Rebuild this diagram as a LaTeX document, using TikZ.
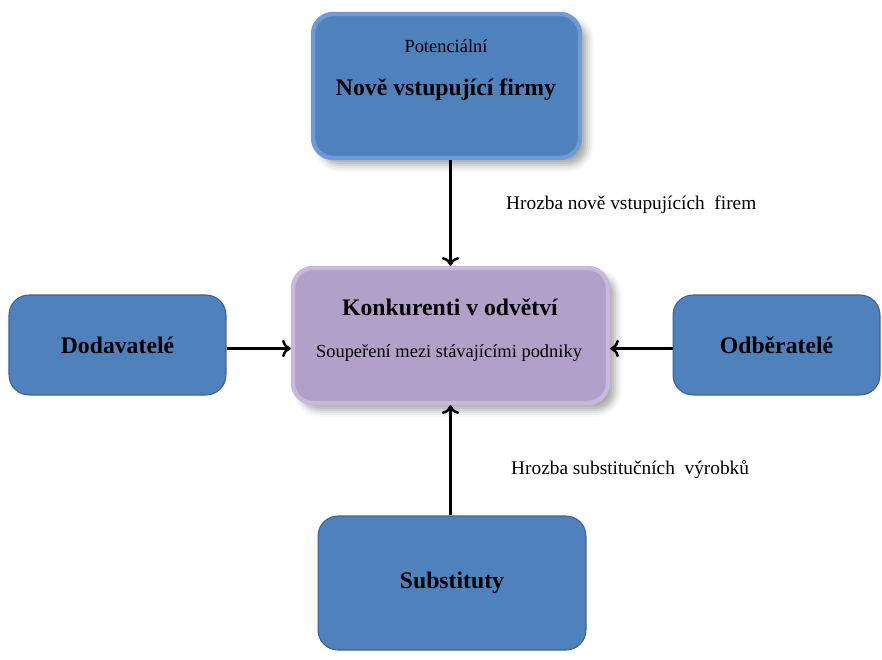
\documentclass[tikz,border=0pt]{standalone}
\usepackage{fontspec}
\setmainfont{Liberation Serif}
\usetikzlibrary{arrows.meta,shadows.blur}
\definecolor{boxblue}{RGB}{79,129,189}
\definecolor{boxedge}{RGB}{60,98,145}
\definecolor{glowblue}{RGB}{110,155,212}
\definecolor{rivalfill}{RGB}{177,160,199}
\definecolor{rivalglow}{RGB}{200,184,222}
\begin{document}
\begin{tikzpicture}[
  x=0.02cm, y=-0.02cm,
  force box/.style={draw=boxedge, fill=boxblue, rounded corners=0.4cm,
    line width=0.6pt, inner sep=0pt, align=center},
  glow box/.style={force box, draw=glowblue, line width=2.5pt,
    blur shadow={shadow xshift=4pt, shadow yshift=-4pt, shadow blur radius=4pt, shadow opacity=35}},
  rival box/.style={glow box, fill=rivalfill, draw=rivalglow},
  big label/.style={font=\fontsize{13.5}{16}\selectfont\bfseries},
  small label/.style={font=\fontsize{10.5}{12}\selectfont},
  threat label/.style={font=\fontsize{11}{13}\selectfont, anchor=west},
  force arrow/.style={draw, line width=1.4pt, -{To[length=5pt,width=10pt]}}
]
\useasboundingbox (0,0) rectangle (882,659);

% boxes
\node[glow box, minimum width=5.34cm, minimum height=2.88cm] (nove) at (446.5,86) {};
\node[small label] (novetop) at (446,46) {Potenciální};
\node[big label] (novetxt) at (446,90) {Nově vstupující firmy};

\node[rival box, minimum width=6.3cm, minimum height=2.7cm] (konk) at (450.5,335.5) {};
\node[big label] (konktxt) at (450,307) {Konkurenti v odvětví};
\node[small label] (konksub) at (449,353) {Soupeření mezi stávajícími podniky};

\node[force box, big label, minimum width=4.34cm, minimum height=2cm] (dod) at (117.5,345) {Dodavatelé};
\node[force box, big label, minimum width=4.14cm, minimum height=2cm] (odb) at (776.5,345) {Odběratelé};
\node[force box, big label, minimum width=5.36cm, minimum height=2.68cm] (subst) at (452,583) {Substituty};

% threats
\node[threat label] (hrozbanove) at (500,205) {Hrozba nově vstupujících\ \ firem};
\node[threat label] (hrozbasubst) at (505,470) {Hrozba substitučních\ \ výrobků};

% arrows
\draw[force arrow] (nove.south -| konk.north) -- (konk.north);
\draw[force arrow] (subst.north -| konk.south) -- (konk.south);
\draw[force arrow] ([yshift=-2pt]dod.east) -- ([yshift=-2pt]dod.east -| konk.west);
\draw[force arrow] ([yshift=-2pt]odb.west) -- ([yshift=-2pt]odb.west -| konk.east);
\end{tikzpicture}
\end{document}
